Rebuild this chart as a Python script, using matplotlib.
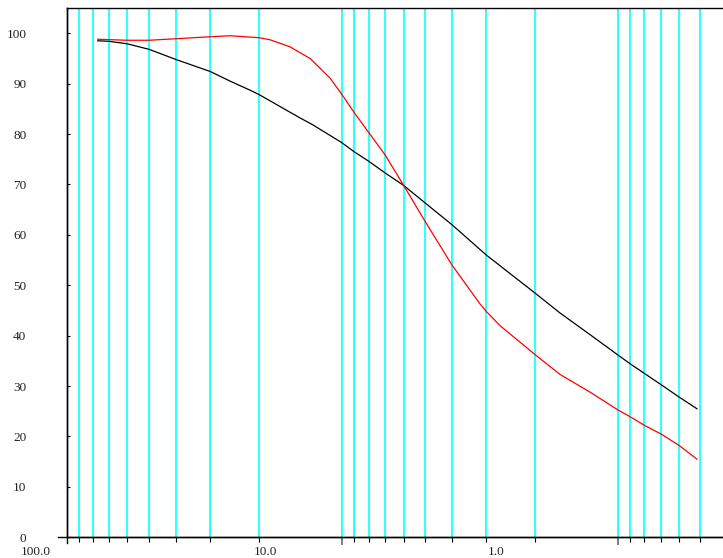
import numpy as np
import matplotlib.pyplot as plt
from matplotlib.transforms import ScaledTranslation

plt.rcParams['font.family'] = ['Liberation Serif', 'DejaVu Serif']

# sieve sizes (mm) drawn as cyan verticals
sieves = [62.45, 54.2, 46.1, 38.2, 30.6, 23.4, 16.44, 10.0,
          4.34, 3.83, 3.30, 2.79, 2.31, 1.87, 1.42, 1.0, 0.612,
          0.264, 0.232, 0.201, 0.170, 0.141, 0.114]
long_ticks = [4.34, 0.264]

black_x = [51.5, 46.1, 38.2, 30.6, 23.35, 16.44, 13.46, 10.99, 10.0, 6.62,
           5.80, 4.335, 3.826, 3.296, 2.795, 2.312, 1.868, 1.416, 1.0,
           0.604, 0.4734, 0.349, 0.2637, 0.232, 0.201, 0.170,
           0.1412, 0.118]
black_y = [98.5, 98.4, 97.9, 96.8, 94.8, 92.4, 90.5, 88.7, 87.8, 83.2,
           81.8, 78.3, 76.5, 74.6, 72.3, 69.8, 66.4, 62.0, 56.0,
           48.3, 44.5, 40.2, 36.2, 34.4, 32.5, 30.3,
           27.8, 25.5]

red_x = [51.5, 38.2, 30.6, 23.35, 16.44, 13.46, 10.0, 8.97, 7.33, 5.98,
         4.88, 4.335, 3.826, 3.296, 2.795, 2.312, 1.868, 1.416, 1.066, 1.0,
         0.870, 0.710, 0.604, 0.473, 0.349, 0.2637, 0.232, 0.201, 0.170,
         0.1412, 0.118]
red_y = [98.8, 98.6, 98.6, 98.9, 99.3, 99.5, 99.1, 98.7, 97.3, 95.0,
         91.1, 87.9, 84.3, 80.3, 75.9, 69.8, 62.8, 54.0, 46.3, 44.8,
         42.0, 38.7, 36.1, 32.3, 28.8, 25.3, 23.9, 22.2, 20.5,
         18.2, 15.5]

x_labels = [(100.0, '100.0'), (10.0, '10.0'), (1.0, '1.0')]
y_ticks = list(range(0, 101, 10))

fig = plt.figure(figsize=(7.23, 5.58), dpi=100)
ax = fig.add_axes([66.7 / 723, 20.7 / 558, 656.3 / 723, 529.3 / 558])

ax.set_xscale('log')
ax.set_xlim(70.57, 0.0906)
ax.set_ylim(0, 105)

for s in sieves:
    ax.axvline(s, color='#33ffff', lw=1.5, zorder=1)

ax.plot(black_x, black_y, color='black', lw=0.9, zorder=3)
ax.plot(red_x, red_y, color='#ff0000', lw=0.9, zorder=3)

# ticks
ax.set_xticks([s for s in sieves if s not in long_ticks])
ax.set_xticks(long_ticks, minor=True)
ax.tick_params(axis='x', which='major', direction='out', length=3.5,
               width=0.8, labelbottom=False)
ax.tick_params(axis='x', which='minor', direction='out', length=5.5,
               width=1.2, color='#666666', labelbottom=False)
ax.set_yticks(y_ticks)
ax.set_yticklabels([str(v) for v in y_ticks])
ax.tick_params(axis='y', direction='in', length=1.8, width=0.8,
               pad=29, labelsize=9.5, labelcolor='#222222')

ax.spines['right'].set_visible(False)
for side in ['left', 'top', 'bottom']:
    ax.spines[side].set_linewidth(1.0)

# axis lines extending a little past the corner
ax.plot([-0.0133, 1], [0, 0], transform=ax.transAxes, color='black',
        lw=1.0, clip_on=False)
ax.plot([0, 0], [-0.0113, 1], transform=ax.transAxes, color='black',
        lw=1.0, clip_on=False)

off = ScaledTranslation(18 / 100, 0, fig.dpi_scale_trans)
for xv, lab in x_labels:
    ax.text(xv, -0.028, lab, transform=ax.get_xaxis_transform() + off,
            ha='right', va='center', fontsize=9.5, color='#222222',
            clip_on=False)

fig.savefig('out.png', dpi=100)
